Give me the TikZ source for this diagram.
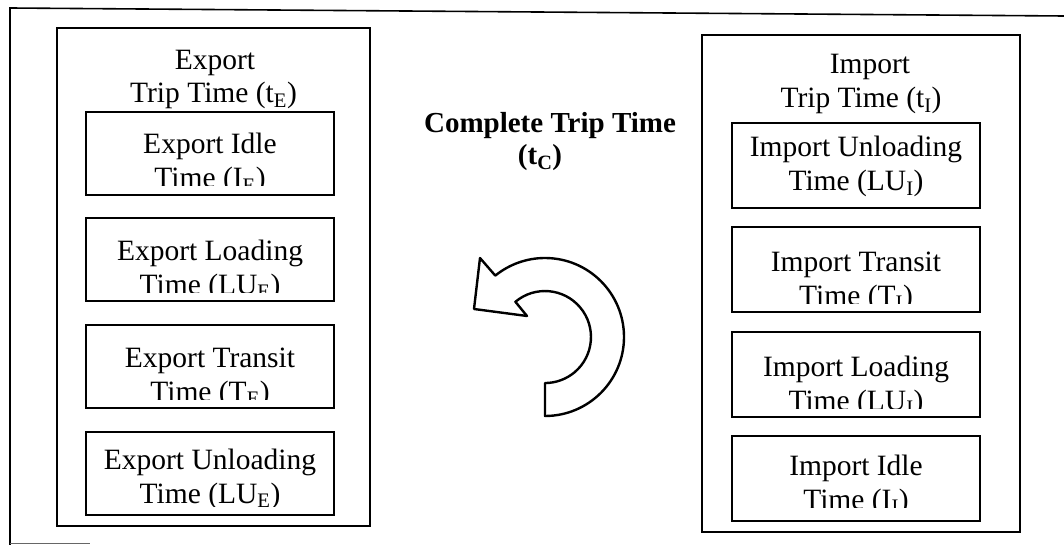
\documentclass[tikz,border=0pt]{standalone}
\usepackage{fontspec}
\setmainfont{Liberation Serif}
\tikzset{
  frameline/.style={line width=1.6pt},
  panel/.style={draw, line width=1.8pt, inner sep=0pt, outer sep=0pt},
  stagebox/.style={draw, line width=1.8pt, inner sep=0pt, outer sep=0pt,
    minimum width=248pt},
  txt/.style={anchor=base, inner sep=0pt, font=\fontsize{29.5}{34}\selectfont},
  ttl/.style={anchor=base, inner sep=0pt, font=\fontsize{29}{34}\selectfont\bfseries},
  cyclearrow/.style={draw, line width=2.4pt, line join=round, fill=white}
}
% #1 name, #2 centre x, #3 top, #4 bottom, #5 first baseline, #6 lower clip edge, #7 line 1, #8 line 2
\newcommand\stagepanel[8]{%
  \node[stagebox, minimum height={#4-#3}] (#1) at (#2,{(#3+#4)/2}) {};
  \begin{scope}
    \clip ({#2-124},#3) rectangle ({#2+124},#6);
    \node[txt] (#1a) at (#2,#5) {#7};
    \node[txt] (#1b) at (#2,{#5+34}) {#8};
  \end{scope}}
\begin{document}
\begin{tikzpicture}[x=1pt,y=-1pt]
\useasboundingbox (0,0) rectangle (1064,545);
% outer frame (open at right and bottom)
\draw[frameline] (1064,16) -- (10,8) -- (10,545);
\draw[line width=0.8pt, black!60] (10,543) -- (90,543);

% export side
\node[panel, minimum width=313pt, minimum height=498pt] (export) at (213.5,277) {};
\node[txt] (exptitle) at (215,70) {Export};
\node[txt] (exptrip) at (213.5,103) {Trip Time (t\textsubscript{E})};
\stagepanel{eidle}{210}{112}{195}{154}{186}{Export Idle}{Time (I\textsubscript{E})}
\stagepanel{eload}{210}{218}{301}{260}{292}{Export Loading}{Time (LU\textsubscript{E})}
\stagepanel{etrans}{210}{325}{408}{367}{399}{Export Transit}{Time (T\textsubscript{E})}
\stagepanel{eunload}{210}{432}{515}{469}{506}{Export Unloading}{Time (LU\textsubscript{E})}

% import side
\node[panel, minimum width=318pt, minimum height=497pt] (import) at (861,283.5) {};
\node[txt] (imptitle) at (870,74) {Import};
\node[txt] (imptrip) at (861,108) {Trip Time (t\textsubscript{I})};
\stagepanel{iunload}{856}{123}{208}{157}{199}{Import Unloading}{Time (LU\textsubscript{I})}
\stagepanel{itrans}{856}{227}{312}{271}{303}{Import Transit}{Time (T\textsubscript{I})}
\stagepanel{iload}{856}{332}{417}{376}{408}{Import Loading}{Time (LU\textsubscript{I})}
\stagepanel{iidle}{856}{436}{521}{475}{507}{Import Idle}{Time (I\textsubscript{I})}

% centre title
\node[ttl] (complete) at (550,133) {Complete Trip Time};
\node[ttl] (tc) at (540,165) {(t\textsubscript{C})};

% circular arrow, turning anticlockwise
\path[cyclearrow] (545,416) arc[start angle=90, end angle=-129, radius=79]
  -- (480,258) -- (474,309) -- (527,316) -- (515.4,301.8)
  arc[start angle=-130, end angle=90, radius=46] -- cycle;
\end{tikzpicture}
\end{document}
